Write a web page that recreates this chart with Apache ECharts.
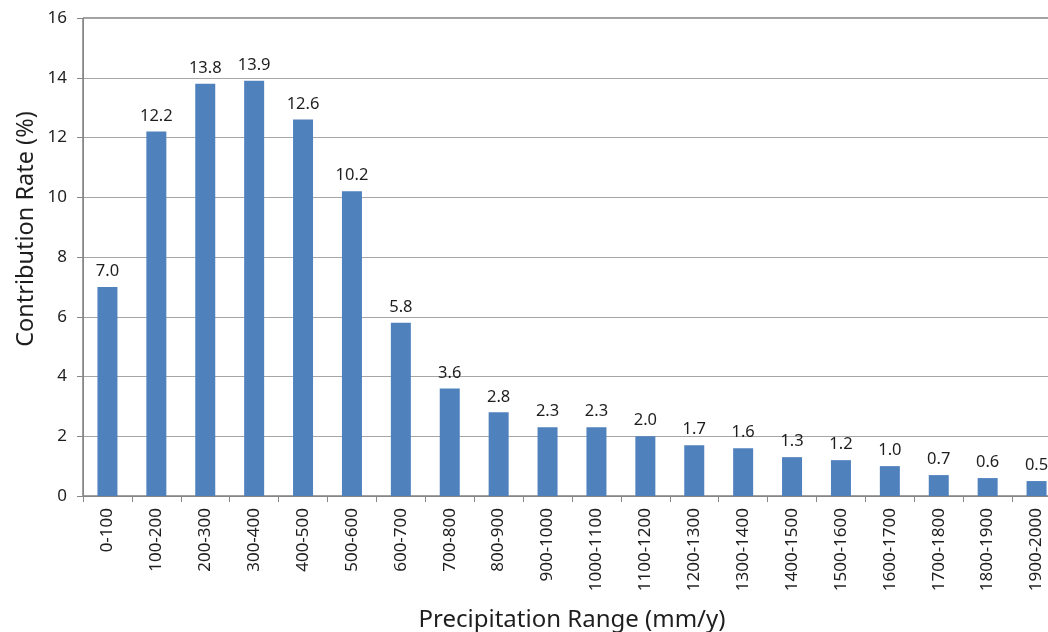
<!DOCTYPE html>
<html><head><meta charset="utf-8">
<script src="https://cdn.jsdelivr.net/npm/echarts@6/dist/echarts.min.js"></script>
<style>html,body{margin:0;padding:0;background:#fff}#c{width:1048px;height:632px}</style>
</head><body><div id="c"></div>
<script>
const categories = ["0-100","100-200","200-300","300-400","400-500","500-600","600-700","700-800","800-900","900-1000","1000-1100","1100-1200","1200-1300","1300-1400","1400-1500","1500-1600","1600-1700","1700-1800","1800-1900","1900-2000"];
const values = [7.0,12.2,13.8,13.9,12.6,10.2,5.8,3.6,2.8,2.3,2.3,2.0,1.7,1.6,1.3,1.2,1.0,0.7,0.6,0.5];
const yTicks = [0,2,4,6,8,10,12,14,16];
const xTitle = 'Precipitation Range (mm/y)';
const yTitle = 'Contribution Rate (%)';
const FONT = "Noto Sans";
const TXT = '#1e1e1e';
const chart = echarts.init(document.getElementById('c'), null, {renderer:'canvas'});
chart.setOption({
  animation:false,
  textStyle:{fontFamily:FONT},
  grid:{left:83, top:18, width:978, height:478, outerBoundsMode:'none', containLabel:false,
        show:true, borderColor:'#404040', borderWidth:1, backgroundColor:'transparent'},
  graphic:[{
    type:'text', x:26, y:229, rotation:Math.PI/2,
    style:{text:yTitle, fill:TXT, font:'23.5px "Noto Sans"', textAlign:'center', textVerticalAlign:'middle'}
  }],
  xAxis:{
    type:'category', data:categories,
    name:xTitle, nameLocation:'middle', nameGap:112,
    nameTextStyle:{fontSize:24, color:TXT, fontFamily:FONT},
    axisLine:{lineStyle:{color:'#868686', width:1}},
    axisTick:{show:true, length:6, lineStyle:{color:'#868686'}},
    axisLabel:{rotate:90, fontSize:17, color:TXT, margin:12, interval:0, fontFamily:FONT}
  },
  yAxis:{
    type:'value', min:0, max:16, interval:2,
    axisLine:{show:true, lineStyle:{color:'#868686'}},
    axisTick:{show:true, length:6, lineStyle:{color:'#868686'}},
    splitLine:{lineStyle:{color:'#a6a6a6'}},
    axisLabel:{fontSize:17, color:TXT, margin:16, fontFamily:FONT,
      formatter:v=> yTicks.includes(v)? String(v):''}
  },
  series:[{
    type:'bar', data:values, barWidth:20,
    itemStyle:{color:'#4f81bd'},
    label:{show:true, position:'top', distance:7, fontSize:16.5, color:TXT, fontFamily:FONT,
      formatter:p=>p.value.toFixed(1)}
  }]
});
</script></body></html>
